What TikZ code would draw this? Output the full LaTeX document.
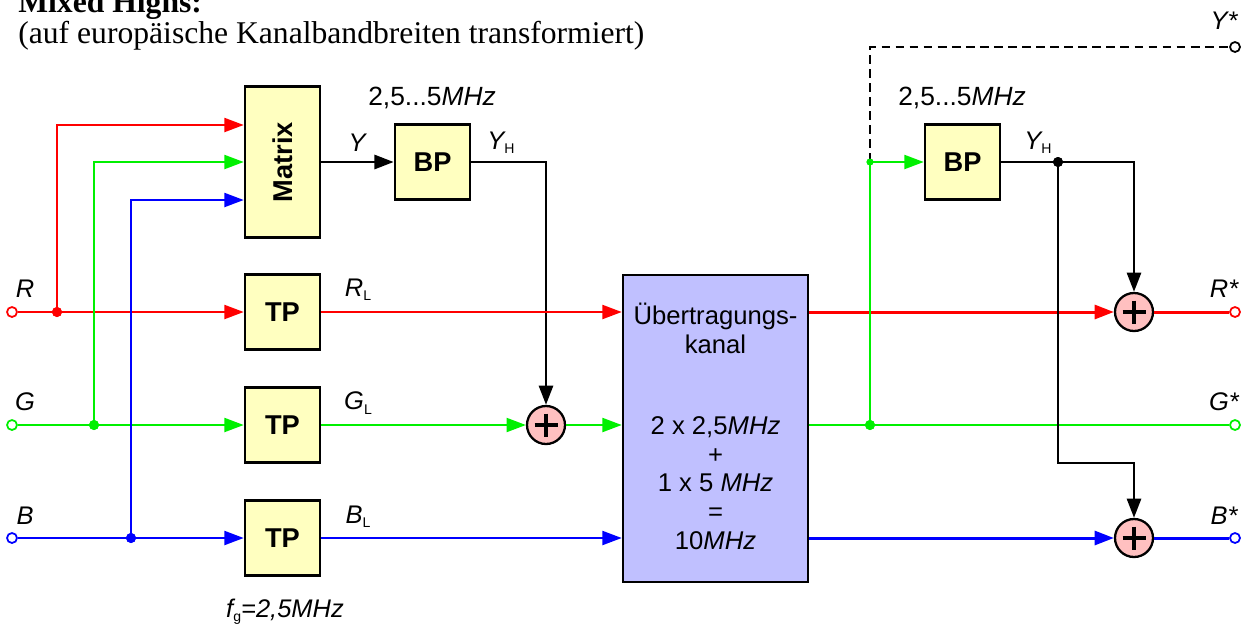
\documentclass[tikz,border=0pt]{standalone}
\usepackage{fontspec}
\setmainfont{Liberation Serif}
\setsansfont{Liberation Sans}
\usetikzlibrary{arrows.meta,calc}
\definecolor{boxyellow}{RGB}{255,255,192}
\definecolor{chanblue}{RGB}{192,192,255}
\definecolor{addpink}{RGB}{255,192,192}
\definecolor{sigred}{RGB}{255,0,0}
\definecolor{siggreen}{RGB}{0,240,0}
\definecolor{sigblue}{RGB}{0,0,255}
\newcommand{\lsub}[1]{\raisebox{-2.5pt}{\upshape\fontsize{8}{8}\selectfont #1}}
\begin{document}
\begin{tikzpicture}[x=0.02cm,y=-0.02cm,
  fblock/.style={draw=black, line width=1.5pt, fill=boxyellow, minimum width=1.5cm, minimum height=1.5cm, inner sep=0pt, font=\sffamily\bfseries\fontsize{15.5}{18}\selectfont},
  chanbox/.style={draw=black, line width=1.5pt, fill=chanblue, minimum width=3.7cm, minimum height=6.14cm, inner sep=0pt},
  chantext/.style={font=\sffamily\fontsize{14.6}{16.4}\selectfont, align=center, inner sep=0pt},
  adder/.style={circle, draw=black, line width=1.3pt, fill=addpink, minimum size=0.76cm, inner sep=0pt},
  plusbar/.style={black, line width=1.8pt},
  term/.style={circle, draw=#1, line width=1pt, fill=white, minimum size=0.2cm, inner sep=0pt},
  jdot/.style={circle, fill=#1, minimum size=0.2cm, inner sep=0pt},
  sdot/.style={circle, fill=#1, minimum size=0.14cm, inner sep=0pt},
  lbl/.style={font=\sffamily\itshape\fontsize{14.5}{17}\selectfont, inner sep=0pt},
  flbl/.style={font=\sffamily\fontsize{15}{17}\selectfont, inner sep=0pt},
  tip/.style={-{Triangle[length=11pt,width=8pt]}},
  thin/.style={line width=1.1pt},
  thick/.style={line width=1.7pt},
  blackline/.style={line width=1.6pt, black}
]
\useasboundingbox (0,0) rectangle (1247,623);

% titles
\node[anchor=base west, inner sep=0pt, font=\rmfamily\bfseries\fontsize{18}{20}\selectfont] (title) at (18,12) {Mixed Highs:};
\node[anchor=base west, inner sep=0pt, font=\rmfamily\fontsize{18}{20}\selectfont] (subtitle) at (18,43) {(auf europäische Kanalbandbreiten transformiert)};

% blocks
\node[fblock, minimum height=3.02cm] (Matrix) at (282.5,162) {\rotatebox{90}{Matrix}};
\node[fblock] (BP1) at (432.5,162) {BP};
\node[fblock] (TPR) at (282.5,312) {TP};
\node[fblock] (TPG) at (282.5,425) {TP};
\node[fblock] (TPB) at (282.5,538) {TP};
\node[chanbox] (chan) at (715.5,428.5) {};
\node[chantext] (chanA) at (715.5,328) {Übertragungs-\\kanal};
\node[chantext] (chanB) at (715.5,483) {2 x 2,5\textit{MHz}\\+\\1 x 5 \textit{MHz}\\=\\10\textit{MHz}};
\node[fblock] (BP2) at (962.5,162) {BP};

\node[adder] (addG) at (546,425) {};
\node[adder] (addR) at (1134,312) {};
\node[adder] (addB) at (1134,538) {};
\foreach \a in {addG,addR,addB}{
  \draw[plusbar] ($(\a)+(-11.5,0)$) -- ($(\a)+(11.5,0)$);
  \draw[plusbar] ($(\a)+(0,-11.5)$) -- ($(\a)+(0,11.5)$);
}

% terminals
\node[term=sigred] (Rin) at (12,312) {};
\node[term=siggreen] (Gin) at (12,425) {};
\node[term=sigblue] (Bin) at (12,538) {};
\node[term=sigred] (Rout) at (1235,312) {};
\node[term=siggreen] (Gout) at (1235,425) {};
\node[term=sigblue] (Bout) at (1235,538) {};
\node[term=black] (Yout) at (1235,47) {};

% junctions
\node[jdot=sigred] (jR) at (57,312) {};
\node[jdot=siggreen] (jG) at (94,425) {};
\node[jdot=sigblue] (jB) at (131,538) {};
\node[jdot=siggreen] (jG2) at (870,425) {};
\node[sdot=siggreen] (jG3) at (870,162) {};
\node[jdot=black] (jY) at (1058,162) {};
\coordinate (kB) at (1058,463);

% input side
\draw[thin, sigred, tip] (Rin) -- (TPR);
\draw[thin, siggreen, tip] (Gin) -- (TPG);
\draw[thin, sigblue, tip] (Bin) -- (TPB);
\draw[thin, sigred, tip] (jR.center) |- ($(Matrix.west)+(0,-37)$);
\draw[thin, siggreen, tip] (jG.center) |- (Matrix.west);
\draw[thin, sigblue, tip] (jB.center) |- ($(Matrix.west)+(0,38)$);
\node[jdot=sigred] at (jR) {};
\node[jdot=siggreen] at (jG) {};
\node[jdot=sigblue] at (jB) {};

\draw[blackline, tip] (Matrix.east) -- (BP1.west);
\draw[blackline, tip] (BP1.east) -| (addG.north);
\draw[thin, sigred, tip] (TPR.east) -- (TPR.east -| chan.west);
\draw[thin, siggreen, tip] (TPG.east) -- (addG.west);
\draw[thin, siggreen, tip] (addG.east) -- (addG.east -| chan.west);
\draw[thin, sigblue, tip] (TPB.east) -- (TPB.east -| chan.west);

% output side
\draw[thick, sigred, tip] (chan.east |- addR) -- (addR.west);
\draw[thick, sigred] (addR.east) -- (Rout);
\draw[thin, siggreen] (chan.east |- Gout) -- (Gout);
\draw[thick, sigblue, tip] (chan.east |- addB) -- (addB.west);
\draw[thick, sigblue] (addB.east) -- (Bout);
\draw[thin, siggreen] (jG2.center) -- (jG3.center);
\draw[thin, siggreen, tip] (jG3.center) -- (BP2.west);
\draw[black, line width=1pt, dashed, dash pattern=on 5pt off 3pt] (jG3.center) |- (Yout);
\node[jdot=siggreen] at (jG2) {};
\node[sdot=siggreen] at (jG3) {};
\draw[blackline] (BP2.east) -- (jY.center);
\draw[blackline, tip] (jY.center) -| (addR.north);
\draw[blackline, tip] (jY.center) -- (kB) -| (addB.north);
\node[jdot=black] at (jY) {};

% labels
\node[lbl] (lR) at (25,289) {R};
\node[lbl] (lG) at (25,402) {G};
\node[lbl] (lB) at (25,516) {B};
\node[lbl] (lRs) at (1224,289) {R*};
\node[lbl] (lGs) at (1224,402) {G*};
\node[lbl] (lBs) at (1224,516) {B*};
\node[lbl] (lYs) at (1224,21) {Y*};
\node[lbl] (lRL) at (358,290) {R\lsub{L}};
\node[lbl] (lGL) at (358,403) {G\lsub{L}};
\node[lbl] (lBL) at (358,517) {B\lsub{L}};
\node[lbl] (lY) at (357,143) {Y};
\node[lbl] (lYH1) at (501,143) {Y\lsub{H}};
\node[lbl] (lYH2) at (1038,143) {Y\lsub{H}};
\node[flbl] (f1) at (432,98) {2,5...5\textit{MHz}};
\node[flbl] (f2) at (962,98) {2,5...5\textit{MHz}};
\node[lbl, anchor=base] (fg) at (285,617) {f\lsub{g}=2,5MHz};
\end{tikzpicture}
\end{document}
